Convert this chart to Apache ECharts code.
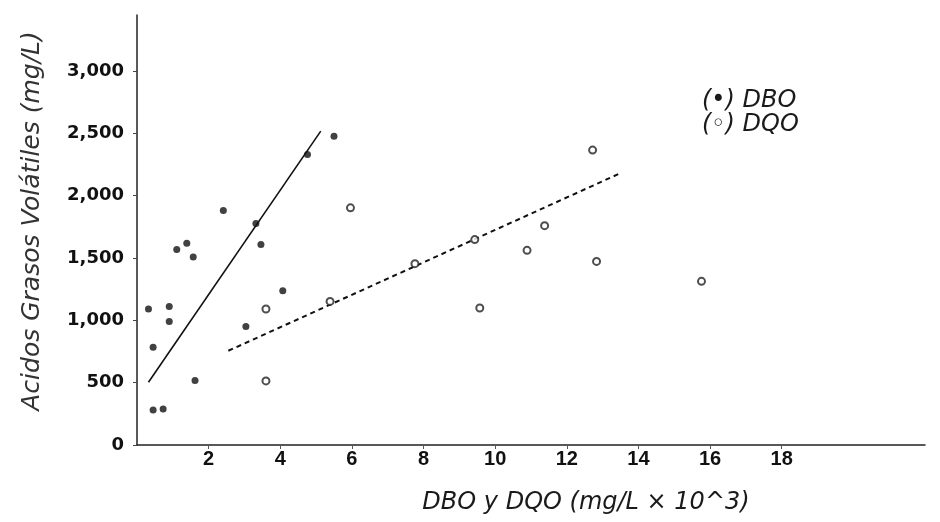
<!DOCTYPE html>
<html>
<head>
<meta charset="utf-8">
<script src="https://cdn.jsdelivr.net/npm/echarts@6/dist/echarts.min.js"></script>
<style>
html,body{margin:0;padding:0;background:#fff;}
#c{width:940px;height:522px;}
</style>
</head>
<body>
<div id="c"></div>
<script>
// DBO (filled points): [x (mg/L x 10^3), y (mg/L)]
const dboPoints = [
  [0.32,1091],[0.90,1112],[0.90,991],[0.45,785],[0.45,281],[0.73,289],
  [1.11,1568],[1.39,1618],[1.57,1509],[1.62,517],[2.41,1881],[3.32,1777],
  [3.46,1608],[4.07,1238],[3.04,951],[4.76,2331],[5.50,2478]
];
// DQO (open points)
const dqoPoints = [
  [5.96,1903],[3.60,1091],[3.60,514],[5.39,1152],[7.76,1455],[9.43,1648],
  [11.38,1760],[10.89,1562],[12.83,1473],[15.76,1313],[9.57,1099],[12.72,2366]
];
// fitted lines (end points)
const dboFit = [[0.32,504],[5.13,2518]];
const dqoFit = [[2.55,756],[13.52,2184]];
// axis ticks
const xTickLabels = [2,4,6,8,10,12,14,16,18];
const yTickLabels = [0,500,1000,1500,2000,2500,3000];

const dv = 'DejaVu Sans, Verdana, sans-serif';
const lib = 'Liberation Sans, Arial, sans-serif';
const chart = echarts.init(document.getElementById('c'), null, {renderer:'canvas'});
chart.setOption({
  backgroundColor:'#ffffff',
  animation:false,
  grid:{left:137, right:15, top:15, bottom:77, containLabel:false},
  legend:{
    orient:'vertical', left:691, top:84, itemGap:0,
    itemWidth:0, itemHeight:0,
    data:['DBO','DQO'],
    formatter: n => n === 'DBO' ? '(•) DBO' : '(◦) DQO',
    textStyle:{fontFamily:dv, fontSize:24, fontStyle:'italic', color:'#1a1a1a'}
  },
  xAxis:{
    type:'value', min:0, max:22, interval:2,
    name:'DBO y DQO (mg/L × 10^3)', nameLocation:'middle', nameGap:46,
    nameTextStyle:{fontFamily:dv, fontSize:24, fontStyle:'italic', color:'#1a1a1a', padding:[0,0,0,110]},
    axisLine:{show:true, onZero:false, lineStyle:{color:'#222', width:1.5}},
    axisTick:{show:true, length:4, lineStyle:{color:'#555'}, customValues: xTickLabels},
    axisLabel:{
      customValues: xTickLabels,
      margin:4, fontFamily:lib, fontSize:20, fontWeight:'bold', color:'#111',
      formatter: v => xTickLabels.includes(v) ? String(v) : ''
    },
    splitLine:{show:false}
  },
  yAxis:{
    type:'value', min:0, max:3450, interval:500,
    name:'Acidos Grasos Volátiles (mg/L)', nameLocation:'middle', nameGap:92, nameRotate:90,
    nameTextStyle:{fontFamily:dv, fontSize:25, fontStyle:'italic', color:'#333', padding:[0,0,0,18]},
    axisLine:{show:true, lineStyle:{color:'#222', width:1.5}},
    axisTick:{show:true, length:4, lineStyle:{color:'#444'}, customValues: yTickLabels},
    axisLabel:{
      customValues: yTickLabels,
      margin:13, fontFamily:dv, fontSize:18, fontWeight:'bold', color:'#111',
      formatter: v => yTickLabels.includes(v) ? v.toLocaleString('en-US') : ''
    },
    splitLine:{show:false}
  },
  series:[
    {name:'DBO', type:'scatter', data:dboPoints, symbol:'circle', symbolSize:7,
     itemStyle:{color:'#111'}, z:3},
    {name:'DQO', type:'scatter', data:dqoPoints, symbol:'emptyCircle', symbolSize:7,
     itemStyle:{color:'#222', borderColor:'#222', borderWidth:1.3}, z:3},
    {name:'DBO fit', type:'line', data:dboFit, symbol:'none',
     lineStyle:{color:'#111', width:1.6, type:'solid'}, z:2},
    {name:'DQO fit', type:'line', data:dqoFit, symbol:'none',
     lineStyle:{color:'#111', width:2, type:[5,4]}, z:2}
  ]
});
</script>
</body>
</html>
